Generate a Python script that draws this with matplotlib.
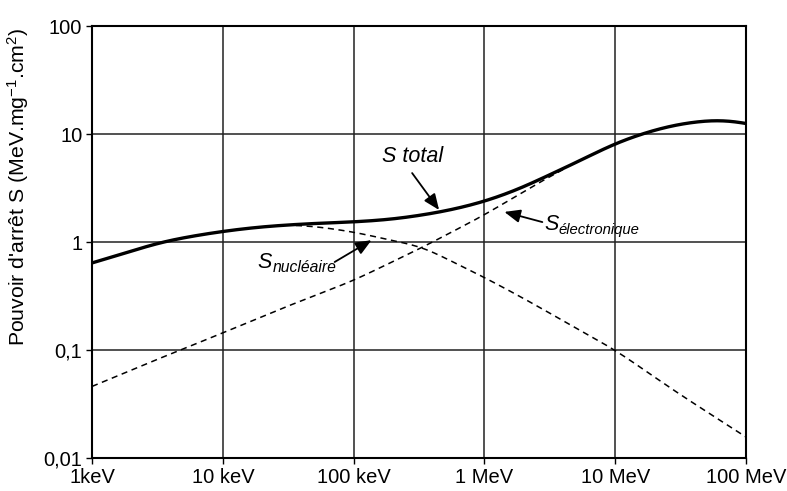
import numpy as np
import matplotlib
matplotlib.use("Agg")
from matplotlib import pyplot as plt

plt.rcParams['font.family'] = ['Liberation Sans', 'DejaVu Sans']
plt.rcParams['mathtext.fontset'] = 'custom'
plt.rcParams['mathtext.rm'] = 'Liberation Sans'
plt.rcParams['mathtext.it'] = 'Liberation Sans:italic'

# energies in MeV, stopping power in MeV.mg-1.cm2
e_total = [0.001, 0.002, 0.003, 0.005, 0.01, 0.02, 0.05, 0.1, 0.2, 0.3, 0.5,
           1, 2, 3, 5, 10, 20, 30, 50, 70, 100]
s_total = [0.64, 0.82, 0.97, 1.10, 1.26, 1.39, 1.49, 1.53, 1.62, 1.74, 1.92,
           2.35, 3.2, 4.1, 5.4, 8.3, 11.0, 12.4, 13.4, 13.8, 12.6]

e_elec = [0.001, 0.003, 0.01, 0.03, 0.1, 0.34, 1, 2, 3, 4]
s_elec = [0.046, 0.08, 0.144, 0.25, 0.44, 0.9, 1.78, 2.94, 3.9, 4.7]

e_nucl = [0.03, 0.05, 0.1, 0.2, 0.34, 0.5, 1, 2, 5, 10, 30, 100]
s_nucl = [1.44, 1.40, 1.24, 1.03, 0.9, 0.71, 0.47, 0.30, 0.16, 0.1, 0.04, 0.0156]

x_ticks = [0.001, 0.01, 0.1, 1, 10, 100]
x_labels = ['1keV', '10 keV', '100 keV', '1 MeV', '10 MeV', '100 MeV']
y_ticks = [0.01, 0.1, 1, 10, 100]
y_labels = ['0,01', '0,1', '1', '10', '100']


def smooth(xs, ys, sigma=0.07, step=0.005):
    # linear in log-log, then a small gaussian blur along log(E)
    lx = np.log10(xs)
    ly = np.log10(ys)
    t = np.arange(lx[0], lx[-1] + step / 2, step)
    v = np.interp(t, lx, ly)
    k = int(3 * sigma / step)
    # extend the ends along their end slopes so they stay in place
    s0 = (ly[1] - ly[0]) / (lx[1] - lx[0])
    s1 = (ly[-1] - ly[-2]) / (lx[-1] - lx[-2])
    left = v[0] - s0 * step * np.arange(k, 0, -1)
    right = v[-1] + s1 * step * np.arange(1, k + 1)
    vp = np.concatenate([left, v, right])
    g = np.exp(-0.5 * (np.arange(-k, k + 1) * step / sigma) ** 2)
    g /= g.sum()
    vs = np.convolve(vp, g, mode='valid')
    return 10**t, 10**vs


fig = plt.figure(figsize=(7.87, 4.91), dpi=100)
ax = fig.add_axes([0.1169, 0.0672, 0.8311, 0.8798])
ax.set_xscale('log')
ax.set_yscale('log')
ax.set_xlim(0.001, 100)
ax.set_ylim(0.01, 100)

ax.set_xticks(x_ticks)
ax.set_xticklabels(x_labels)
ax.set_yticks(y_ticks)
ax.set_yticklabels(y_labels)
ax.minorticks_off()
ax.tick_params(direction='out', length=4, width=1, labelsize=14.5, pad=3)
ax.grid(True, color='#222222', lw=1.1)
for sp in ax.spines.values():
    sp.set_linewidth(1.5)

xe, ye = smooth(e_elec, s_elec, sigma=0.1)
ax.plot(xe, ye, color='k', lw=1.1, ls=(0, (4, 3)))
xn, yn = smooth(e_nucl, s_nucl, sigma=0.1)
ax.plot(xn, yn, color='k', lw=1.1, ls=(0, (4, 3)))
xt, yt = smooth(e_total, s_total, sigma=0.14)
ax.plot(xt, yt, color='k', lw=2.4, solid_capstyle='butt')

arrow = dict(arrowstyle='-|>,head_length=0.6,head_width=0.25', color='k',
             lw=1.3, mutation_scale=16, shrinkA=0, shrinkB=0)
ax.text(0.28, 6.25, 'S total', style='italic', fontsize=15.5,
        ha='center', va='center')
ax.annotate('', xy=(0.45, 1.98), xytext=(0.28, 4.35), arrowprops=arrow)

ax.text(2.87, 1.29, 'S', style='italic', fontsize=15.5, ha='left', va='baseline')
ax.text(3.67, 1.19, 'électronique', style='italic', fontsize=10.7,
        ha='left', va='baseline')
ax.annotate('', xy=(1.42, 1.90), xytext=(2.77, 1.53), arrowprops=arrow)

ax.text(0.0185, 0.574, 'S', style='italic', fontsize=15.5, ha='left', va='baseline')
ax.text(0.0241, 0.527, 'nucléaire', style='italic', fontsize=11.3,
        ha='left', va='baseline')
ax.annotate('', xy=(0.137, 1.04), xytext=(0.0716, 0.653), arrowprops=arrow)

ax.set_ylabel("Pouvoir d'arrêt S (MeV.mg$^{-1}$.cm$^{2}$)", fontsize=15.3)
ax.yaxis.set_label_coords(-0.093, 0.627)

fig.savefig('out.png', dpi=100)
